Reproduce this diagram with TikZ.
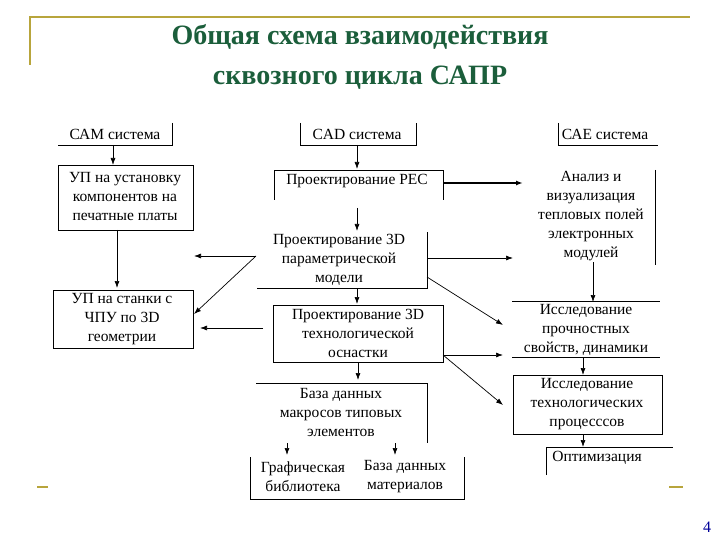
\documentclass[tikz,border=0pt]{standalone}
\usepackage{fontspec}
\setmainfont{Liberation Serif}
\usetikzlibrary{arrows.meta}
\begin{document}
\begin{tikzpicture}[x=1pt,y=-1pt,
  t/.style={font=\fontsize{15.5}{19}\selectfont,align=center,inner sep=0pt},
  ln/.style={line width=0.7pt},
  ar/.style={line width=0.7pt,-{Latex[length=7pt,width=5pt]}},
  gold/.style={draw=goldc,line width=1.5pt}]
\definecolor{goldc}{HTML}{B8A53C}
\definecolor{titc}{HTML}{1B5E3B}
\useasboundingbox (0,0) rectangle (720,540);
\draw[gold] (30,65)--(30,17)--(690,17);
\draw[gold] (37,487)--(48,487);
\draw[gold] (669,487)--(683,487);
\node[font=\bfseries\fontsize{28}{30}\selectfont,text=titc] (t1) at (360,37) {Общая схема взаимодействия};
\node[font=\bfseries\fontsize{28}{30}\selectfont,text=titc] (t2) at (360,78) {сквозного цикла САПР};
\node[font=\fontsize{16}{18}\selectfont,text=blue!60!black] (pg) at (707,527) {4};
% boxes
\node[t] (cam) at (115,134) {САМ система};
\draw[ln] (172,123)--(172,145)--(58,145);
\node[t] (upu) at (125,197) {УП на установку\\компонентов на\\печатные платы};
\draw[ln] (58,165) rectangle (193,230);
\node[t] (cad) at (357,134) {CAD система};
\draw[ln] (300,123)--(300,145)--(416,145)--(416,123);
\node[t] (pes) at (357,181) {Проектирование РЕС};
\draw[ln] (274,200)--(274,170)--(443,170)--(443,200);
\node[t] (p3d) at (339,260) {Проектирование 3D\\параметрической\\модели};
\draw[ln] (427,232)--(427,288)--(257,288);
\node[t] (ups) at (122,319) {УП на станки с\\ЧПУ по 3D\\геометрии};
\draw[ln] (53,290) rectangle (193,348);
\node[t] (t3d) at (358,333) {Проектирование 3D\\технологической\\оснастки};
\draw[ln] (273,305) rectangle (443,362);
\node[t] (bdm) at (341,412) {База данных\\макросов типовых\\элементов};
\draw[ln] (256,383)--(427,383)--(427,443);
\node[t] (gb) at (303,477) {Графическая\\библиотека};
\node[t] (bmat) at (405,477) {База данных\\материалов};
\draw[ln] (250,457)--(250,499)--(464,499)--(464,457);
\node[t] (cae) at (605,134) {САЕ система};
\draw[ln] (558,123)--(558,145)--(658,145);
\node[t] (an) at (591,216) {Анализ и\\визуализация\\тепловых полей\\электронных\\модулей};
\draw[ln] (655,170)--(655,265);
\node[t] (ip) at (586,330) {Исследование\\прочностных\\свойств, динамики};
\draw[ln] (512,301)--(660,301); \draw[ln] (512,357)--(660,357);
\node[t] (it) at (587,404) {Исследование\\технологических\\процесссов};
\draw[ln] (513,375) rectangle (662,434);
\node[t] (opt) at (597,458) {Оптимизация};
\draw[ln] (546,475)--(546,447)--(673,447);
% arrows
\coordinate (a1) at (113,145); \coordinate (a2) at (113,165);
\draw[ar] (a1)--(a2);
\coordinate (b1) at (117,230); \coordinate (b2) at (117,288);
\draw[ar] (b1)--(b2);
\coordinate (c1) at (357,145); \coordinate (c2) at (357,169);
\draw[ar] (c1)--(c2);
\coordinate (d1) at (357,208); \coordinate (d2) at (357,231);
\draw[ar] (d1)--(d2);
\coordinate (e1) at (443,183); \coordinate (e2) at (523,183);
\draw[ar,line width=1.4pt] (e1)--(e2);
\coordinate (f1) at (427,258); \coordinate (f2) at (513,258);
\draw[ar] (f1)--(f2);
\coordinate (g1) at (427,277); \coordinate (g2) at (503,325);
\draw[ar] (g1)--(g2);
\coordinate (h0) at (256,256); \coordinate (h1) at (194,256); \coordinate (h2) at (194,314);
\draw[ar] (h0)--(h1); \draw[ar] (h0)--(h2);
\coordinate (i1) at (357,288); \coordinate (i2) at (357,304);
\draw[ar] (i1)--(i2);
\coordinate (j1) at (263,328); \coordinate (j2) at (200,328);
\draw[ar] (j1)--(j2);
\coordinate (k0) at (443,355); \coordinate (k1) at (503,355); \coordinate (k2) at (503,405);
\draw[ar] (k0)--(k1); \draw[ar] (k0)--(k2);
\coordinate (l1) at (358,362); \coordinate (l2) at (358,380);
\draw[ar] (l1)--(l2);
\coordinate (m1) at (287,443); \coordinate (m2) at (287,455);
\draw[ar] (m1)--(m2);
\coordinate (n1) at (395,443); \coordinate (n2) at (395,455);
\draw[ar] (n1)--(n2);
\coordinate (o1) at (593,262); \coordinate (o2) at (593,302);
\draw[ar] (o1)--(o2);
\coordinate (p1) at (583,357); \coordinate (p2) at (583,375);
\draw[ar] (p1)--(p2);
\coordinate (q1) at (583,434); \coordinate (q2) at (583,447);
\draw[ar] (q1)--(q2);
\end{tikzpicture}
\end{document}
